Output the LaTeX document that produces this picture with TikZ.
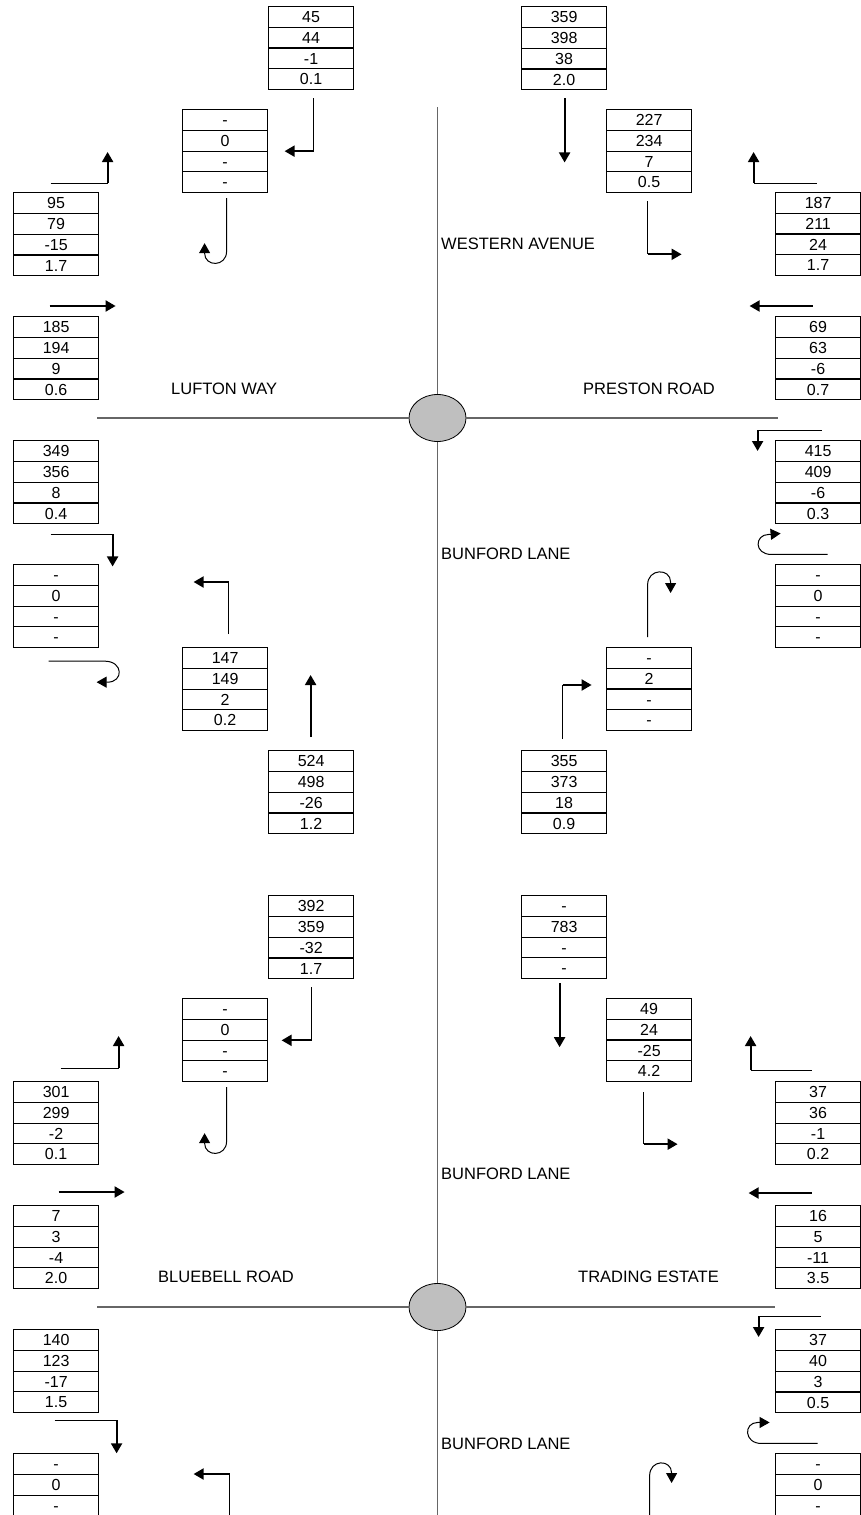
\documentclass[tikz,border=0pt]{standalone}
\usepackage{fontspec}
\setmainfont{Liberation Sans}
\usetikzlibrary{arrows.meta,shapes.multipart,shapes.geometric,calc}
\newcommand{\cellht}{\rule{0pt}{11.5pt}}

\begin{document}
\begin{tikzpicture}[x=1pt,y=-1pt,
		counts/.style={rectangle split, rectangle split parts=4, draw, line width=1.2pt,
			anchor=north west, minimum width=85pt, inner xsep=0pt, inner ysep=4pt,
			text height=11.5pt, text depth=0pt, font=\fontsize{16}{19}\selectfont},
		rbt/.style={ellipse, draw, fill=black!25, line width=0.8pt,
			minimum width=57pt, minimum height=47pt, inner sep=0pt},
		road/.style={draw=black!60, line width=1.2pt},
		lab/.style={anchor=west, inner sep=0pt, font=\fontsize{16.5}{19}\selectfont},
		feed/.style={line width=1pt},
		move/.style={line width=2pt, -{Triangle[length=10pt,width=11pt]}},
		uturn/.style={line width=1pt, -{Triangle[length=10pt,width=11pt]}}]
	\useasboundingbox (0,0) rectangle (861,1515);
	\clip (0,0) rectangle (861,1515);
	% count boxes
	\foreach \n/\x/\y/\p/\q/\r/\s in {
		1/268/6/45/44/-1/0.1, 2/521/6/359/398/38/2.0,
		3/182/109/-/0/-/-, 4/606/109/227/234/7/0.5,
		5/13/192/95/79/-15/1.7, 6/775/192/187/211/24/1.7,
		7/13/316/185/194/9/0.6, 8/775/316/69/63/-6/0.7,
		9/13/440/349/356/8/0.4, 10/775/440/415/409/-6/0.3,
		11/13/564/-/0/-/-, 12/775/564/-/0/-/-,
		13/182/647/147/149/2/0.2, 14/606/647/-/2/-/-,
		15/268/750/524/498/-26/1.2, 16/521/750/355/373/18/0.9,
		17/268/895/392/359/-32/1.7, 18/521/895/-/783/-/-,
		19/182/998/-/0/-/-, 20/606/998/49/24/-25/4.2,
		21/13/1081/301/299/-2/0.1, 22/775/1081/37/36/-1/0.2,
		23/13/1205/7/3/-4/2.0, 24/775/1205/16/5/-11/3.5,
		25/13/1329/140/123/-17/1.5, 26/775/1329/37/40/3/0.5,
		27/13/1453/-/0/-/{}, 28/775/1453/-/0/-/{}} {
		\node[counts] (c\n) at (\x,\y)
			{\cellht\p\nodepart{two}\cellht\q\nodepart{three}\cellht\r\nodepart{four}\cellht\s};
	}
	% roads
	\node[rbt] (r1) at (437.5,418) {};
	\node[rbt] (r2) at (437.5,1307) {};
	\coordinate (w1) at (97,418);
	\coordinate (e1) at (778,418);
	\coordinate (n1) at (437.5,107);
	\coordinate (w2) at (97,1307);
	\coordinate (e2) at (775,1307);
	\coordinate (s2) at (437.5,1515);
	\draw[road] (w1) -- (r1) -- (e1);
	\draw[road] (w2) -- (r2) -- (e2);
	\draw[road] (n1) -- (r1) -- (r2) -- (s2);
	\node[lab] (wa) at (441,244) {WESTERN AVENUE};
	\node[lab] (lw) at (171,389) {LUFTON WAY};
	\node[lab] (pr) at (583,389) {PRESTON ROAD};
	\node[lab] (bl1) at (441,554) {BUNFORD LANE};
	\node[lab] (bl2) at (441,1174) {BUNFORD LANE};
	\node[lab] (br) at (158,1277) {BLUEBELL ROAD};
	\node[lab] (te) at (578,1277) {TRADING ESTATE};
	\node[lab] (bl3) at (441,1444) {BUNFORD LANE};
	% turning movements
	\foreach \b/\an/\dx/\dy/\fx/\fy/\mx/\my in {
		1/south/2.5/8/0/53/-29/0, 5/north/-5.5/-9/57/0/0/-31,
		4/south/-1.5/8/0/53/34/0, 6/north/-1.5/-9/-63/0/0/-31,
		9/south/-5.5/10/62/0/0/32, 10/north/3.5/-10/-64/0/0/21,
		13/north/3.5/-13/0/-52/-35/0, 16/north/-1.5/-11/0/-54/29/0,
		17/south/0.5/8/0/53/-30/0, 21/north/4.5/-13/58/0/0/-32,
		20/south/-5.5/10/0/52/34/0, 22/north/-6.5/-11/-61/0/0/-34,
		25/south/-1.5/7/62/0/0/33, 26/north/2.5/-13/-62/0/0/21,
		27/north/173.5/62/0/-41/-36/0} {
		\draw[feed] ($(c\b.\an)+(\dx,\dy)$) -- ++(\fx,\fy) coordinate (k);
		\draw[move] (k) -- ++(\mx,\my);
	}
	\foreach \b/\an/\dx/\dy/\mx/\my in {
		2/south/0.5/8/0/64, 7/north/-6.5/-10/66/0,
		8/north/-5.5/-10/-63/0, 15/north/-0.5/-13/0/-62,
		18/south/-4.5/4/0/64, 23/north/2.5/-13/66/0,
		24/north/-6.5/-12/-63/0} {
		\draw[move] ($(c\b.\an)+(\dx,\dy)$) -- ++(\mx,\my);
	}
	\draw[uturn] ($(c3.south)+(1.5,5)$) -- ++(0,53)
		.. controls +(0,16) and +(0,14) .. ++(-22,2) -- ++(0,-10);
	\draw[uturn] ($(c19.south)+(1.5,5)$) -- ++(0,54)
		.. controls +(0,16) and +(0,14) .. ++(-22,2) -- ++(0,-10);
	\draw[uturn] ($(c10.south)+(9.5,30)$) -- ++(-56,0)
		.. controls +(-18,0) and +(-14,0) .. ++(-3,-20) -- ++(12,-1);
	\draw[uturn] ($(c26.south)+(-0.5,30)$) -- ++(-56,0)
		.. controls +(-18,0) and +(-14,0) .. ++(-4,-21) -- ++(12,0);
	\draw[uturn] ($(c11.south)+(-7.5,13)$) -- ++(56,0)
		.. controls +(19,0) and +(16,0) .. ++(3,21) -- ++(-11,0);
	\draw[uturn] ($(c14.north)+(-1.5,-10)$) -- ++(0,-52)
		.. controls +(0,-17) and +(0,-14) .. ++(23,-3) -- ++(0,11);
	\draw[uturn] ($(c28.north)+(-168.5,62)$) -- ++(0,-39)
		.. controls +(0,-17) and +(0,-14) .. ++(22,-3) -- ++(0,10);
\end{tikzpicture}
\end{document}
